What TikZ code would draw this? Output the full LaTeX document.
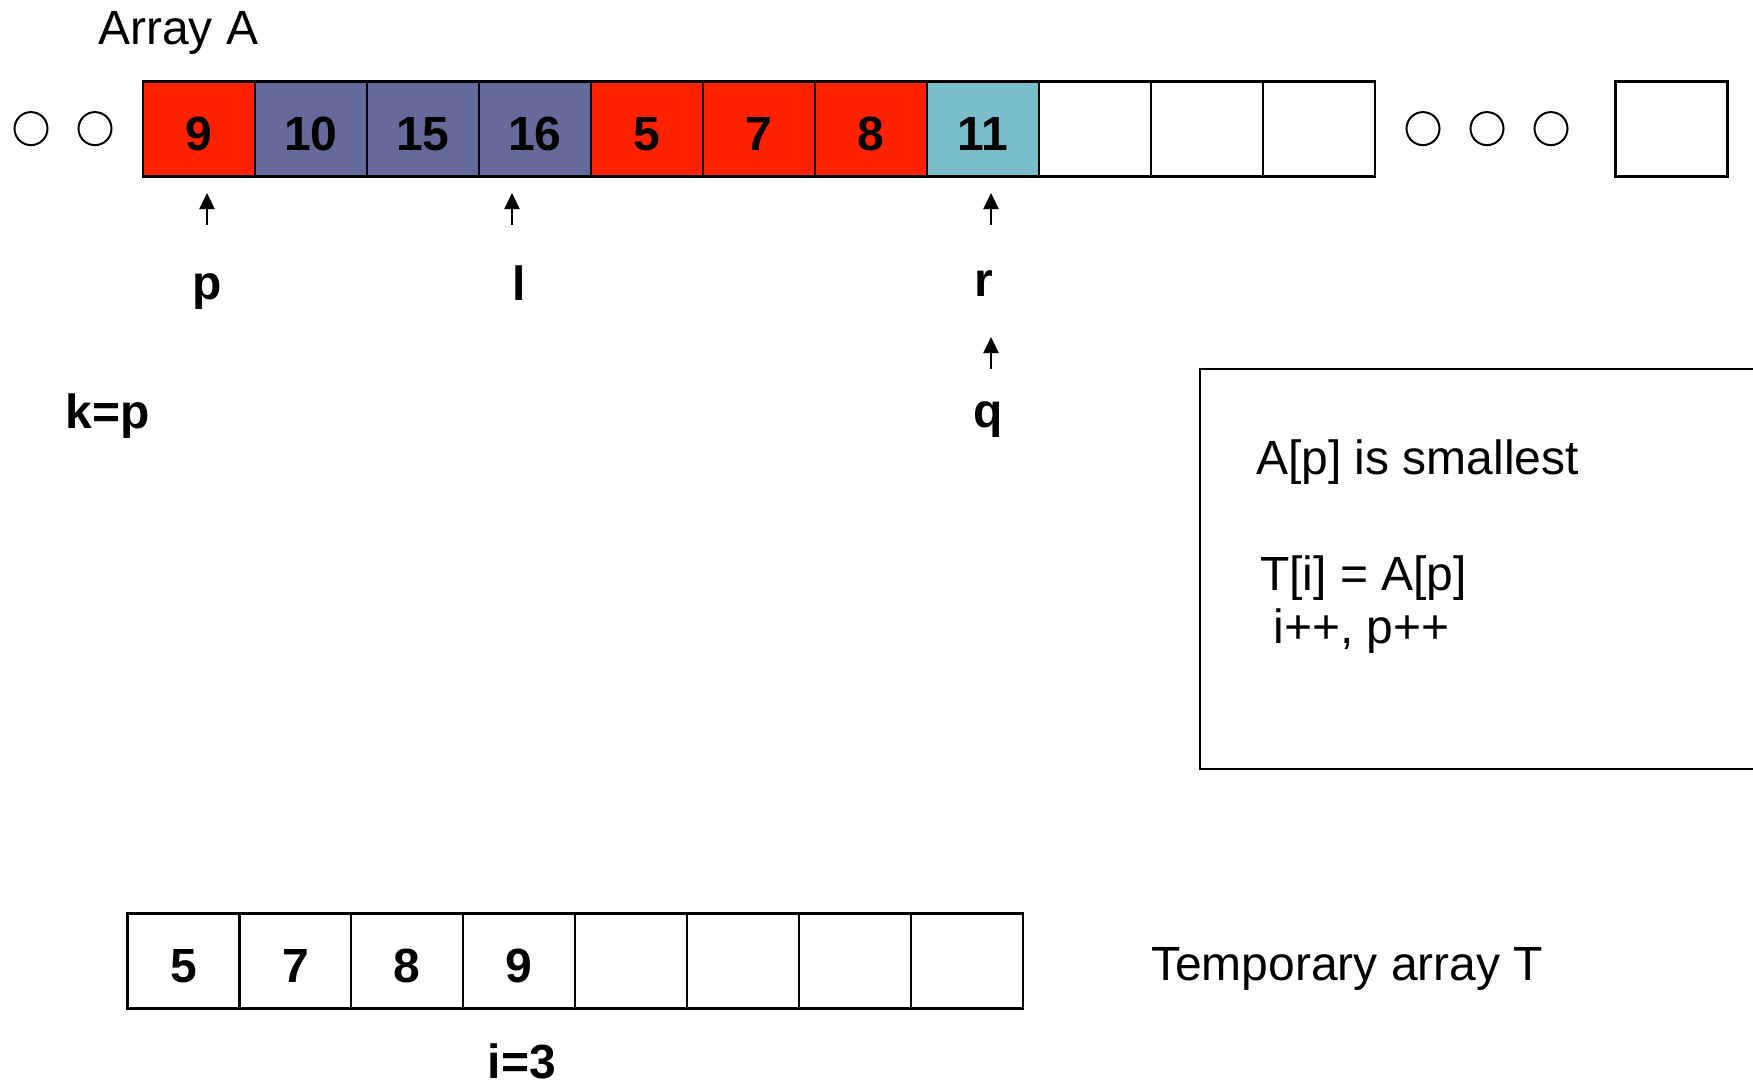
\documentclass[tikz,border=0pt]{standalone}
\usepackage{fontspec}
\setmainfont{Liberation Sans}
\usetikzlibrary{arrows.meta}

\definecolor{cellred}{RGB}{255,34,0}
\definecolor{cellblue}{RGB}{102,106,155}
\definecolor{cellteal}{RGB}{121,189,201}

\newcommand\plainfont{\fontsize{48}{58}\selectfont}
\newcommand\boldfont{\fontsize{48}{58}\selectfont\bfseries}

\tikzset{
  cell/.style={draw=black, line width=2.2pt, minimum width=112pt, minimum height=95pt,
    inner sep=0pt, outer sep=0pt, text height=42pt, text depth=0pt, font=\boldfont},
  dot/.style={draw=black, line width=2pt, circle, minimum size=33pt, inner sep=0pt},
  lbl/.style={inner sep=0pt, anchor=base, font=\boldfont},
  txt/.style={inner sep=0pt, anchor=base west, font=\plainfont},
  ptr/.style={line width=2.2pt, -{Triangle[length=16pt,width=15pt]}},
  notebox/.style={draw=black, line width=2pt, minimum width=570pt, minimum height=400pt, inner sep=0pt}
}

\begin{document}
\begin{tikzpicture}[x=1pt,y=-1pt]
  \clip (0,0) rectangle (1753,1087);
  \fill[white] (0,0) rectangle (1753,1087);

  % array A
  \node[txt] (titleA) at (98,44) {Array A};
  \node[dot] (la1) at (31,128.6) {};
  \node[dot] (la2) at (95,128.6) {};
  \foreach \v/\c [count=\k from 0] in {9/cellred,10/cellblue,15/cellblue,16/cellblue,
      5/cellred,7/cellred,8/cellred,11/cellteal,/white,/white,/white}
    \node[cell, fill=\c] (a\k) at (199+112*\k,129) {\v};
  \node[dot] (ra1) at (1423,128.6) {};
  \node[dot] (ra2) at (1487,128.6) {};
  \node[dot] (ra3) at (1551,128.6) {};
  \node[cell, fill=white] (alast) at (1671.5,129) {};

  % index pointers
  \coordinate (pt) at (207,225);  \coordinate (ph) at (207,193);
  \coordinate (lt) at (512,225);  \coordinate (lh) at (512,193);
  \coordinate (rt) at (991,225);  \coordinate (rh) at (991,193);
  \coordinate (qt) at (991,369);  \coordinate (qh) at (991,337);
  \draw[ptr] (pt) -- (ph);
  \draw[ptr] (lt) -- (lh);
  \draw[ptr] (rt) -- (rh);
  \draw[ptr] (qt) -- (qh);
  \node[lbl] (p) at (207,299) {p};
  \node[lbl] (l) at (519,300) {l};
  \node[lbl] (r) at (984,296) {r};
  \node[lbl] (q) at (988,427) {q};
  \node[lbl] (k) at (108,428) {k=p};

  % explanation box
  \node[notebox] (note) at (1485,569) {};
  \node[txt] (n1) at (1256,474) {A[p] is smallest};
  \node[txt] (n2) at (1260,590) {T[i] = A[p]};
  \node[txt] (n3) at (1260,643) {\ i++, p++};

  % temporary array T
  \foreach \v [count=\k from 0] in {5,7,8,9,,,,}
    \node[cell, fill=white] (t\k) at (183.5+111.9*\k,961) {\v};
  \node[txt] (titleT) at (1151,980) {Temporary array T};
  \node[lbl] (i) at (522,1078) {i=3};
\end{tikzpicture}
\end{document}
